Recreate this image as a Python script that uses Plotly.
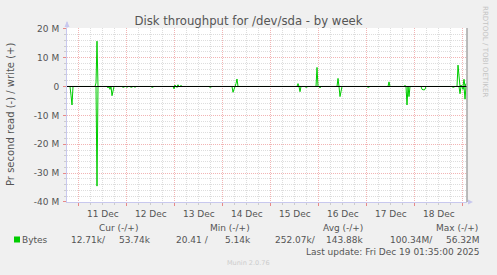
import plotly.graph_objects as go
import pandas as pd

# ---------------- data (values in MB/s) ----------------
range_start = "2025-12-10 18:05"
range_end = "2025-12-19 02:05"
last_update = "2025-12-19 01:35"

write_times = ["2025-12-11 08:35", "2025-12-11 09:05", "2025-12-13 00:05", "2025-12-13 01:35",
               "2025-12-13 03:05", "2025-12-14 06:35", "2025-12-14 07:05", "2025-12-15 13:35",
               "2025-12-15 23:05", "2025-12-16 09:35", "2025-12-17 11:05", "2025-12-17 19:05",
               "2025-12-18 21:35", "2025-12-18 22:05", "2025-12-18 23:05", "2025-12-19 00:35",
               "2025-12-19 01:35"]
write_vals = [1.2, 15.7, 0.5, 0.6, 0.4, 1.0, 2.6, 1.0, 6.6, 2.8, 1.6, 0.4, 7.4, 1.5, 0.5, 2.5, 1.0]

read_times = ["2025-12-10 20:05", "2025-12-10 20:35", "2025-12-11 09:05", "2025-12-11 14:35",
              "2025-12-11 15:35", "2025-12-11 16:35", "2025-12-11 17:05", "2025-12-11 22:05",
              "2025-12-12 00:05", "2025-12-12 02:05", "2025-12-12 04:05", "2025-12-12 12:35",
              "2025-12-12 19:05", "2025-12-12 23:35", "2025-12-13 01:05", "2025-12-13 17:35",
              "2025-12-14 05:05", "2025-12-14 05:35", "2025-12-14 16:05", "2025-12-15 14:35",
              "2025-12-15 17:35", "2025-12-16 00:35", "2025-12-16 10:35", "2025-12-16 11:05",
              "2025-12-17 00:35", "2025-12-17 03:05", "2025-12-17 20:05", "2025-12-17 21:05",
              "2025-12-18 03:35", "2025-12-18 04:05", "2025-12-18 04:35", "2025-12-18 05:05",
              "2025-12-18 19:05", "2025-12-18 22:35", "2025-12-19 00:05", "2025-12-19 01:05"]
read_vals = [3.0, 6.4, 34.5, 0.5, 1.0, 3.2, 1.5, 0.3, 0.3, 0.3, 0.3, 0.3,
             0.2, 0.8, 0.3, 0.3, 2.0, 1.0, 0.2, 1.8, 0.3, 0.5, 3.5, 1.5,
             0.3, 0.2, 6.4, 3.5, 1.0, 1.2, 1.2, 1.0, 0.3, 2.5, 1.0, 4.4]

y_tickvals = [20e6, 10e6, 0, -10e6, -20e6, -30e6, -40e6]
y_ticktext = ["20 M", "10 M", "0", "-10 M", "-20 M", "-30 M", "-40 M"]

title_text = "Disk throughput for /dev/sda - by week"
ytitle_text = "Pr second read (-) / write (+)"
legend_name = "Bytes"
stat_headers = ["Cur (-/+)", "Min (-/+)", "Avg (-/+)", "Max (-/+)"]
stat_values = ["12.71k/", "53.74k", "20.41 /", "5.14k", "252.07k/", "143.88k", "100.34M/", "56.32M"]
update_text = "Last update: Fri Dec 19 01:35:00 2025"
munin_text = "Munin 2.0.76"
rrd_text = "RRDTOOL / TOBI OETIKER"

# ---------------- series ----------------
grid = pd.date_range(range_start, last_update, freq="30min")
write = pd.Series(0.0, index=grid)
for t, v in zip(write_times, write_vals):
    write[pd.Timestamp(t)] = v * 1e6
read = pd.Series(0.0, index=grid)
for t, v in zip(read_times, read_vals):
    read[pd.Timestamp(t)] = -v * 1e6

GREEN = "#00CC00"
TXT = "#555555"
FONT = "DejaVu Sans"
W, H = 497, 275
L, R, T, B = 67, 30, 28, 73
PW, PH = W - L - R, H - T - B
# scale chosen so that zero lands on a pixel centre (58.5 px below top)
PER_PX = 40e6 / (PH - 58.5)
Y_MAX = 58.5 * PER_PX
Y_MIN = -40e6 - 0.02 * PER_PX


def px(x):
    return (x - L) / PW


def py(y):
    return (H - B - y) / PH


fig = go.Figure()
fig.add_trace(go.Scatter(x=read.index, y=read.values, mode="lines",
                         line=dict(color=GREEN, width=1), hoverinfo="skip"))
fig.add_trace(go.Scatter(x=write.index, y=write.values, mode="lines",
                         line=dict(color=GREEN, width=1), hoverinfo="skip"))

MAJ = "#F2B4B4"
MIN = "#DDDDDD"
AX = "#C8C8EE"

fig.update_layout(
    width=W, height=H, autosize=False,
    margin=dict(l=L, r=R, t=T, b=B, pad=0),
    paper_bgcolor="#F0F0F0", plot_bgcolor="#FFFFFF",
    showlegend=False,
    font=dict(family=FONT, size=9, color=TXT),
    title=dict(text=title_text, x=0.5, xref="container", xanchor="center",
               y=1 - 21 / H, yref="container", yanchor="middle",
               font=dict(family=FONT, size=11.7, color=TXT)),
    xaxis=dict(range=[range_start, range_end], type="date",
               tick0="2025-12-11 00:00", dtick=86400000,
               ticklabelmode="period", tickformat="%d %b",
               showgrid=True, gridcolor=MAJ, griddash="1px,1px", gridwidth=1,
               ticks="outside", ticklen=3, tickcolor="#E88888",
               minor=dict(dtick=21600000, showgrid=True, gridcolor=MIN,
                          griddash="1px,1px", ticks="outside", ticklen=2, tickcolor="#CCCCCC"),
               showline=True, linecolor=AX, linewidth=1,
               zeroline=False, fixedrange=True,
               tickfont=dict(family=FONT, size=9, color=TXT)),
    yaxis=dict(range=[Y_MIN, Y_MAX], tickvals=y_tickvals, ticktext=y_ticktext,
               showgrid=True, gridcolor=MAJ, griddash="1px,1px", gridwidth=1,
               ticks="outside", ticklen=3, tickcolor="#E88888",
               minor=dict(dtick=2e6, showgrid=True, gridcolor=MIN,
                          griddash="1px,1px", ticks="outside", ticklen=2, tickcolor="#CCCCCC"),
               showline=True, linecolor=AX, linewidth=1,
               zeroline=False, fixedrange=True, ticklabelstandoff=2,
               tickfont=dict(family=FONT, size=9, color=TXT)),
)

shapes = []
# zero line
shapes.append(dict(type="line", xref="paper", yref="y", x0=0, x1=1, y0=0, y1=0,
                   line=dict(color="#000000", width=1), layer="above"))
# right edge line
shapes.append(dict(type="line", xref="paper", yref="paper", x0=1, x1=1, y0=0, y1=1,
                   line=dict(color="#999999", width=1.3), layer="above"))
# left axis extension and arrows
shapes.append(dict(type="line", xref="paper", yref="paper", x0=0, x1=0, y0=1, y1=py(22),
                   line=dict(color=AX, width=1)))
shapes.append(dict(type="path", xref="paper", yref="paper", xsizemode="pixel", ysizemode="pixel",
                   xanchor=0, yanchor=1, path="M -2.5,1 L 2.5,1 L 0,7 Z",
                   fillcolor=AX, line=dict(width=0)))
shapes.append(dict(type="path", xref="paper", yref="paper", xsizemode="pixel", ysizemode="pixel",
                   xanchor=1, yanchor=0, path="M 1,-2.5 L 1,2.5 L 6,0 Z",
                   fillcolor=AX, line=dict(width=0)))
# legend swatch
shapes.append(dict(type="rect", xref="paper", yref="paper", x0=px(14), x1=px(20),
                   y0=py(242.5), y1=py(236.5), fillcolor=GREEN, line=dict(width=0)))
fig.update_layout(shapes=shapes)

ann = []


def text(s, x, y, anchor="left", size=9, color=TXT, angle=0):
    ann.append(dict(text=s, xref="paper", yref="paper", x=px(x), y=py(y),
                    xanchor=anchor, yanchor="middle", showarrow=False, textangle=angle,
                    font=dict(family=FONT, size=size, color=color)))


text(ytitle_text, 10, 115, anchor="center", size=10, angle=-90)
text(rrd_text, 486, 51, anchor="center", size=7.1, color="#C4C4C4", angle=90)
text(legend_name, 20, 239.5)
hdr_right = [140, 252, 365, 480]
for s, xr in zip(stat_headers, hdr_right):
    text(s, xr, 228, anchor="right")
val_right = [108, 153, 211, 253, 318, 365, 435, 482]
for s, xr in zip(stat_values, val_right):
    text(s, xr, 239.5, anchor="right")
text(update_text, 482, 251.5, anchor="right")
text(munin_text, 248, 263, anchor="center", size=6.5, color="#CCCCCC")
fig.update_layout(annotations=ann)

fig.write_html("out.html", config=dict(displayModeBar=False, staticPlot=True))
